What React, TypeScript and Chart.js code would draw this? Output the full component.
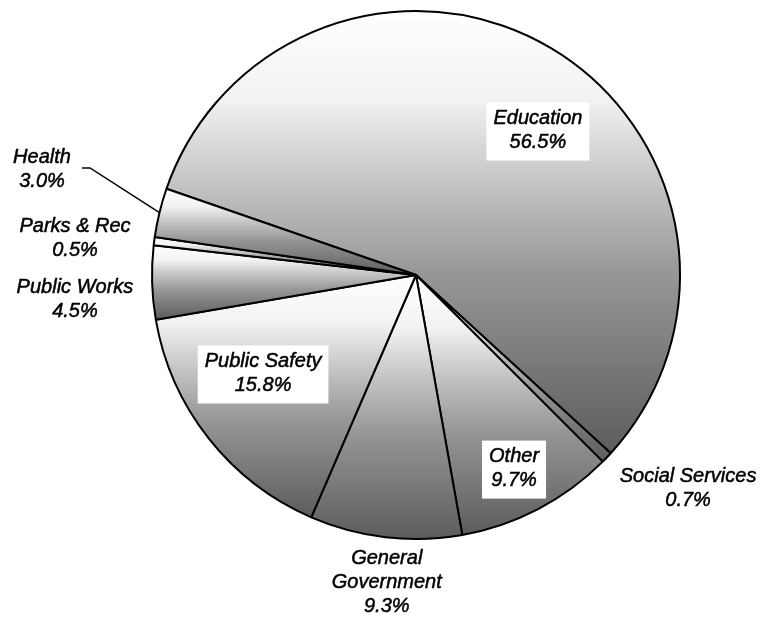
import { useEffect, useRef } from 'react';
import { Chart, registerables } from 'chart.js';

Chart.register(...registerables);

// ---- data ----
const categories = ['Education', 'Social Services', 'Other', 'General Government', 'Public Safety', 'Public Works', 'Parks & Rec', 'Health'];
const shares = [56.5, 0.7, 9.7, 9.3, 15.8, 4.5, 0.5, 3.0];
const nameLines = [['Education'], ['Social Services'], ['Other'], ['General', 'Government'], ['Public Safety'], ['Public Works'], ['Parks & Rec'], ['Health']];

// ---- label placement (relative to each slice) ----
const labelAngleShift = [9.4, -5.6, 0.7, -1.2, 5.4, -2.4, -1.2, 2.1];
const labelRadiusFactor = [0.716, 1.31, 0.822, 1.168, 0.689, 1.295, 1.299, 1.472];
const labelBoxed = [true, false, true, false, true, false, false, false];
const labelLeader = [false, false, false, false, false, false, false, true];

const ROTATION = -70.94;
const RADIUS = 264;
const FONT = 'italic 20px "Liberation Sans", Arial, sans-serif';
const LINE_H = 24;

const gradientStops: [number, string][] = [
  [0, '#ffffff'],
  [0.2, '#f2f2f2'],
  [0.38, '#c6c6c6'],
  [0.6, '#969696'],
  [1, '#5c5c5c'],
];

function sliceFill(ctx: any) {
  const chart = ctx.chart;
  const area = chart.chartArea;
  if (!area || ctx.dataIndex === undefined) return '#cccccc';
  const cx = (area.left + area.right) / 2;
  const cy = (area.top + area.bottom) / 2;
  const total = shares.reduce((a, b) => a + b, 0);
  let start = ((ROTATION - 90) * Math.PI) / 180;
  for (let i = 0; i < ctx.dataIndex; i++) start += (shares[i] / total) * Math.PI * 2;
  const end = start + (shares[ctx.dataIndex] / total) * Math.PI * 2;
  const ys = [cy, cy + RADIUS * Math.sin(start), cy + RADIUS * Math.sin(end)];
  const inArc = (a: number) => {
    let t = a;
    while (t < start) t += Math.PI * 2;
    return t <= end;
  };
  if (inArc(-Math.PI / 2)) ys.push(cy - RADIUS);
  if (inArc(Math.PI / 2)) ys.push(cy + RADIUS);
  const y0 = Math.min(...ys);
  const y1 = Math.max(...ys);
  const g = chart.ctx.createLinearGradient(0, y0, 0, y1);
  gradientStops.forEach(([o, c]) => g.addColorStop(o, c));
  return g;
}

const labelPlugin = {
  id: 'sliceLabels',
  afterDatasetsDraw(chart: any) {
    const meta = chart.getDatasetMeta(0);
    const c = chart.ctx;
    c.save();
    c.font = FONT;
    c.textAlign = 'center';
    c.textBaseline = 'middle';
    meta.data.forEach((arc: any, i: number) => {
      const { x, y, startAngle, endAngle, outerRadius } = arc.getProps(['x', 'y', 'startAngle', 'endAngle', 'outerRadius'], true);
      const mid = (startAngle + endAngle) / 2;
      const a = mid + (labelAngleShift[i] * Math.PI) / 180;
      const r = outerRadius * labelRadiusFactor[i];
      const lx = x + r * Math.cos(a);
      const ly = y + r * Math.sin(a);
      const lines = [...nameLines[i], shares[i].toFixed(1) + '%'];
      const n = lines.length;
      if (labelBoxed[i]) {
        const w = Math.max(...lines.map((t) => c.measureText(t).width));
        const padX = 7;
        const padY = 5;
        c.fillStyle = '#ffffff';
        c.fillRect(lx - w / 2 - padX, ly - (n * LINE_H) / 2 - padY + 1, w + padX * 2, n * LINE_H + padY * 2);
      }
      if (labelLeader[i]) {
        const ex = x + outerRadius * Math.cos(mid);
        const ey = y + outerRadius * Math.sin(mid);
        c.beginPath();
        c.strokeStyle = '#000';
        c.lineWidth = 1.5;
        c.moveTo(lx + 40, ly - 1.5);
        c.lineTo(lx + 48, ly - 1.5);
        c.lineTo(ex, ey);
        c.stroke();
      }
      c.fillStyle = '#000';
      c.strokeStyle = '#000';
      c.lineWidth = 0.5;
      lines.forEach((t, j) => {
        const ty = ly + (j - (n - 1) / 2) * LINE_H;
        c.fillText(t, lx, ty);
        c.strokeText(t, lx, ty);
      });
    });
    c.restore();
  },
};

export default function App() {
  const ref = useRef<HTMLCanvasElement>(null);
  useEffect(() => {
    if (!ref.current) return;
    const chart = new Chart(ref.current, {
      type: 'pie',
      data: {
        labels: categories,
        datasets: [
          {
            data: shares,
            backgroundColor: sliceFill as any,
            borderColor: '#000000',
            borderWidth: 2,
          },
        ],
      },
      options: {
        animation: false,
        responsive: true,
        maintainAspectRatio: false,
        rotation: ROTATION,
        radius: RADIUS,
        layout: { padding: { left: 68, right: 0, top: 0, bottom: 67 } },
        plugins: {
          legend: { display: false },
          tooltip: { enabled: false },
          title: { display: false },
        },
      },
      plugins: [labelPlugin],
    });
    return () => chart.destroy();
  }, []);
  return (
    <div style={{ position: 'absolute', left: 0, top: 0, width: 764, height: 617, background: '#fff' }}>
      <canvas ref={ref} />
    </div>
  );
}
